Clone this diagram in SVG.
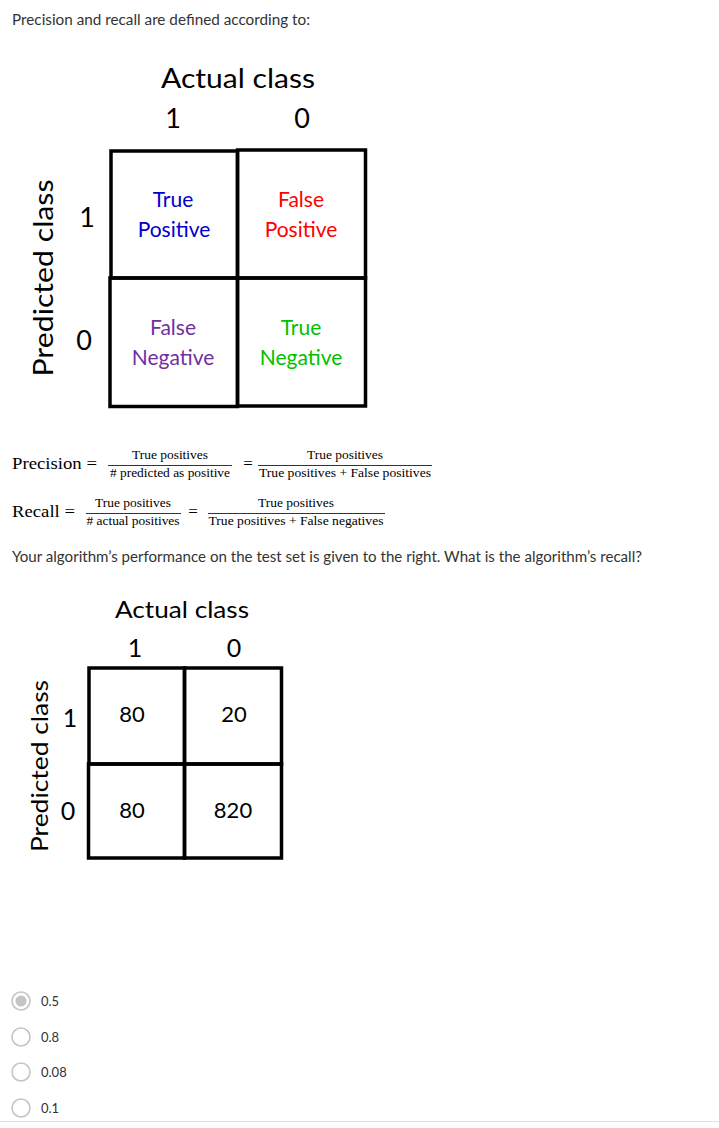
<svg xmlns="http://www.w3.org/2000/svg" width="719" height="1128" viewBox="0 0 719 1128">
<style>
.ui{font-family:Lato,"Open Sans","Noto Sans",sans-serif;fill:#333;}
.cal{font-family:Lato,"Open Sans",sans-serif;fill:#000;}
.big{font-size:27px;}
.cell{font-size:21px;text-anchor:middle;font-family:Lato,"Open Sans",sans-serif;}
.num{font-size:22px;text-anchor:middle;}
.ser{font-family:"Liberation Serif","Times New Roman",serif;fill:#000;}
.frac{font-size:12.8px;text-anchor:middle;}
.box{fill:none;stroke:#000;stroke-width:3.5;}
.rad{fill:#fff;stroke:#c4c4c4;stroke-width:1.6;}
.opt{font-size:13px;}
.bar{stroke:#000;stroke-width:0.8;}
</style>
<rect width="719" height="1128" fill="#fff"/>
<g id="intro"><text class="ui" x="12" y="25" font-size="14.5" textLength="298" lengthAdjust="spacingAndGlyphs">Precision and recall are defined according to:</text></g>

<g id="matrix1">
<text class="cal big" x="238" y="88" text-anchor="middle" textLength="154" lengthAdjust="spacingAndGlyphs">Actual class</text>
<text class="cal big" x="173" y="128" text-anchor="middle">1</text>
<text class="cal big" x="302" y="128" text-anchor="middle">0</text>
<text class="cal big" transform="translate(53,278) rotate(-90)" text-anchor="middle" textLength="197" lengthAdjust="spacingAndGlyphs">Predicted class</text>
<text class="cal big" x="87" y="227" text-anchor="middle">1</text>
<text class="cal big" x="84" y="350" text-anchor="middle">0</text>
<g id="tp"><rect class="box" x="111" y="151" width="126.5" height="127"/>
<text class="cell" x="173" y="207" fill="#0000cc">True</text>
<text class="cell" x="174" y="237" fill="#0000cc">Positive</text></g>
<g id="fp"><rect class="box" x="237.5" y="150" width="128" height="128"/>
<text class="cell" x="301" y="207" fill="#ff0000">False</text>
<text class="cell" x="301" y="237" fill="#ff0000">Positive</text></g>
<g id="fn"><rect class="box" x="110" y="278" width="127.5" height="128.5"/>
<text class="cell" x="173" y="335" fill="#7030a0">False</text>
<text class="cell" x="173" y="365" fill="#7030a0">Negative</text></g>
<g id="tn"><rect class="box" x="237.5" y="278" width="128" height="128"/>
<text class="cell" x="301" y="335" fill="#00c000">True</text>
<text class="cell" x="301" y="365" fill="#00c000">Negative</text></g>
</g>

<g id="precision">
<text class="ser" x="12" y="469" font-size="17" textLength="85" lengthAdjust="spacingAndGlyphs">Precision =</text>
<text class="ser frac" x="170" y="459" textLength="76" lengthAdjust="spacingAndGlyphs">True positives</text>
<line class="bar" x1="108" y1="465.5" x2="232" y2="465.5"/>
<text class="ser frac" x="170" y="477" textLength="120" lengthAdjust="spacingAndGlyphs"># predicted as positive</text>
<text class="ser" x="248" y="469" font-size="17" text-anchor="middle">=</text>
<text class="ser frac" x="345" y="459" textLength="76" lengthAdjust="spacingAndGlyphs">True positives</text>
<line class="bar" x1="258" y1="465.5" x2="432" y2="465.5"/>
<text class="ser frac" x="345" y="477" textLength="172" lengthAdjust="spacingAndGlyphs">True positives + False positives</text>
</g>

<g id="recall">
<text class="ser" x="12" y="517" font-size="17" textLength="63" lengthAdjust="spacingAndGlyphs">Recall =</text>
<text class="ser frac" x="133" y="507" textLength="76" lengthAdjust="spacingAndGlyphs">True positives</text>
<line class="bar" x1="86" y1="513.5" x2="181" y2="513.5"/>
<text class="ser frac" x="133" y="525" textLength="93" lengthAdjust="spacingAndGlyphs"># actual positives</text>
<text class="ser" x="193" y="517" font-size="17" text-anchor="middle">=</text>
<text class="ser frac" x="296" y="507" textLength="76" lengthAdjust="spacingAndGlyphs">True positives</text>
<line class="bar" x1="208" y1="513.5" x2="385" y2="513.5"/>
<text class="ser frac" x="296" y="525" textLength="175" lengthAdjust="spacingAndGlyphs">True positives + False negatives</text>
</g>

<g id="question"><text class="ui" x="12" y="562" font-size="14.5" textLength="630" lengthAdjust="spacingAndGlyphs">Your algorithm’s performance on the test set is given to the right. What is the algorithm’s recall?</text></g>

<g id="matrix2">
<text class="cal" x="182" y="618" font-size="24" text-anchor="middle" textLength="134" lengthAdjust="spacingAndGlyphs">Actual class</text>
<text class="cal" x="135" y="657" font-size="25" text-anchor="middle">1</text>
<text class="cal" x="234" y="657" font-size="25" text-anchor="middle">0</text>
<text class="cal" transform="translate(48,766) rotate(-90)" font-size="24" text-anchor="middle" textLength="172" lengthAdjust="spacingAndGlyphs">Predicted class</text>
<text class="cal" x="70" y="727" font-size="25" text-anchor="middle">1</text>
<text class="cal" x="68" y="820" font-size="25" text-anchor="middle">0</text>
<g id="c11"><rect x="89" y="668" width="95.5" height="96" class="box" stroke-width="4"/>
<text class="cal num" x="132" y="722">80</text></g>
<g id="c10"><rect x="184.5" y="668" width="97" height="96" class="box" stroke-width="4"/>
<text class="cal num" x="234" y="722">20</text></g>
<g id="c01"><rect x="88.5" y="764" width="96" height="94" class="box" stroke-width="4"/>
<text class="cal num" x="132" y="818">80</text></g>
<g id="c00"><rect x="184.5" y="764" width="97" height="94" class="box" stroke-width="4"/>
<text class="cal num" x="233" y="818">820</text></g>
</g>

<g id="options">
<g id="opt1"><circle class="rad" cx="21" cy="1001" r="9"/><circle cx="21" cy="1001" r="5.5" fill="#c4c4c4"/><text class="ui opt" x="41" y="1006">0.5</text></g>
<g id="opt2"><circle class="rad" cx="21" cy="1037" r="9"/><text class="ui opt" x="41" y="1042">0.8</text></g>
<g id="opt3"><circle class="rad" cx="21" cy="1072" r="9"/><text class="ui opt" x="41" y="1077">0.08</text></g>
<g id="opt4"><circle class="rad" cx="21" cy="1108" r="9"/><text class="ui opt" x="41" y="1113">0.1</text></g>
</g>
<line x1="0" y1="1121.5" x2="719" y2="1121.5" stroke="#e0e0e0" stroke-width="1"/>
<g id="connectors"/>
</svg>
